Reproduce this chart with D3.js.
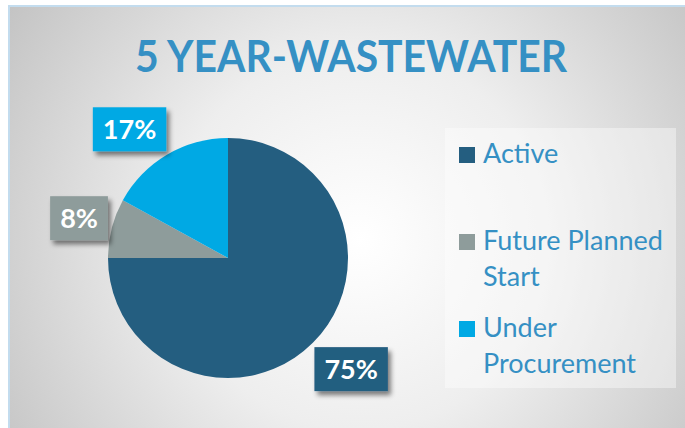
<!DOCTYPE html>
<html>
<head>
<meta charset="utf-8">
<script src="https://cdn.jsdelivr.net/npm/d3@7"></script>
<style>
  body { margin: 0; background: #fff; }
  svg { display: block; }
</style>
</head>
<body>
<svg width="685" height="428"></svg>
<script>
// chart data
var categories = ["Active", "Future Planned Start", "Under Procurement"];
var values = [75, 8, 17];
var legendLines = [["Active"], ["Future Planned", "Start"], ["Under", "Procurement"]];
var colors = ["#245e80", "#8e9c9b", "#00a9e4"];
var title = "5 YEAR-WASTEWATER";

var svg = d3.select("svg"),
    width = +svg.attr("width"),
    height = +svg.attr("height"),
    cx = 228, cy = 258,
    radius = 120,
    labelRadius = 160;

// labels were dragged a bit off the centroid in the original
var labelNudge = [[10, -2], [6, 0], [-17, 9]];

var defs = svg.append("defs");

// background gradient of the panel
var grad = defs.append("radialGradient")
    .attr("id", "bg")
    .attr("gradientUnits", "userSpaceOnUse")
    .attr("cx", 360).attr("cy", 240).attr("r", 420);
grad.append("stop").attr("offset", "0%").attr("stop-color", "#ffffff");
grad.append("stop").attr("offset", "45%").attr("stop-color", "#eeeeee");
grad.append("stop").attr("offset", "100%").attr("stop-color", "#c4c4c4");

// shadow for the label boxes
var filter = defs.append("filter")
    .attr("id", "shadow")
    .attr("x", "-30%").attr("y", "-30%")
    .attr("width", "170%").attr("height", "170%");
filter.append("feGaussianBlur")
    .attr("in", "SourceAlpha")
    .attr("stdDeviation", 2.5)
    .attr("result", "blur");
filter.append("feOffset")
    .attr("in", "blur")
    .attr("dx", 3).attr("dy", 4)
    .attr("result", "offsetBlur");
filter.append("feComponentTransfer")
    .attr("in", "offsetBlur")
    .attr("result", "soft")
  .append("feFuncA").attr("type", "linear").attr("slope", 0.5);
var merge = filter.append("feMerge");
merge.append("feMergeNode").attr("in", "soft");
merge.append("feMergeNode").attr("in", "SourceGraphic");

// panel
svg.append("rect")
    .attr("x", 8).attr("y", 5)
    .attr("width", width - 8).attr("height", height - 5)
    .attr("fill", "url(#bg)");
svg.append("path")
    .attr("d", "M9," + height + "V6H" + width)
    .attr("fill", "none")
    .attr("stroke", "#c3dcee")
    .attr("stroke-width", 2);

// title
var titleText = svg.append("text")
    .attr("x", 351).attr("y", 72)
    .attr("text-anchor", "middle")
    .attr("font-family", "Lato, 'Open Sans', sans-serif")
    .attr("font-weight", "bold")
    .attr("font-size", 43)
    .attr("fill", "#3590c4")
    .text(title);
titleText.attr("textLength", 432).attr("lengthAdjust", "spacingAndGlyphs");

// pie
var pie = d3.pie().sort(null).value(function(d) { return d; });
var arcs = pie(values);
var arc = d3.arc().innerRadius(0).outerRadius(radius);
var labelArc = d3.arc().innerRadius(labelRadius).outerRadius(labelRadius);

var g = svg.append("g").attr("transform", "translate(" + cx + "," + cy + ")");

g.selectAll("path.slice")
    .data(arcs)
    .enter().append("path")
      .attr("class", "slice")
      .attr("d", arc)
      .attr("fill", function(d, i) { return colors[i]; });

// data labels in boxes
var total = d3.sum(values);
var labels = g.selectAll("g.label")
    .data(arcs)
    .enter().append("g")
      .attr("class", "label")
      .attr("transform", function(d, i) {
        var c = labelArc.centroid(d);
        return "translate(" + (c[0] + labelNudge[i][0]) + "," + (c[1] + labelNudge[i][1]) + ")";
      });

labels.append("rect").attr("fill", function(d, i) { return colors[i]; })
    .style("filter", "url(#shadow)");
labels.append("text")
    .attr("text-anchor", "middle")
    .attr("dy", "0.36em")
    .attr("font-family", "Lato, 'Open Sans', sans-serif")
    .attr("font-weight", "bold")
    .attr("font-size", 27)
    .attr("fill", "#fff")
    .text(function(d) { return Math.round(d.value / total * 100) + "%"; });
labels.each(function() {
  var el = d3.select(this);
  var w = el.select("text").node().getComputedTextLength() + 20;
  el.select("rect")
    .attr("x", -w / 2).attr("y", -22)
    .attr("width", w).attr("height", 44);
});

// legend
svg.append("rect")
    .attr("x", 445).attr("y", 128)
    .attr("width", 231).attr("height", 260)
    .attr("fill", "#ffffff")
    .attr("fill-opacity", 0.4);

var ly = d3.scalePoint().domain(categories).range([163, 337]);

var legend = svg.append("g")
    .selectAll("g")
    .data(categories)
    .enter().append("g")
      .attr("transform", function(d) { return "translate(459," + ly(d) + ")"; });

legend.append("rect")
    .attr("y", -16)
    .attr("width", 16).attr("height", 16)
    .attr("fill", function(d, i) { return colors[i]; });

legend.append("text")
    .attr("font-family", "Lato, 'Open Sans', sans-serif")
    .attr("font-size", 27)
    .attr("fill", "#3590c4")
    .selectAll("tspan")
    .data(function(d, i) { return legendLines[i]; })
    .enter().append("tspan")
      .attr("x", 24)
      .attr("y", function(d, j) { return j * 36; })
      .text(function(d) { return d; });
</script>
</body>
</html>
